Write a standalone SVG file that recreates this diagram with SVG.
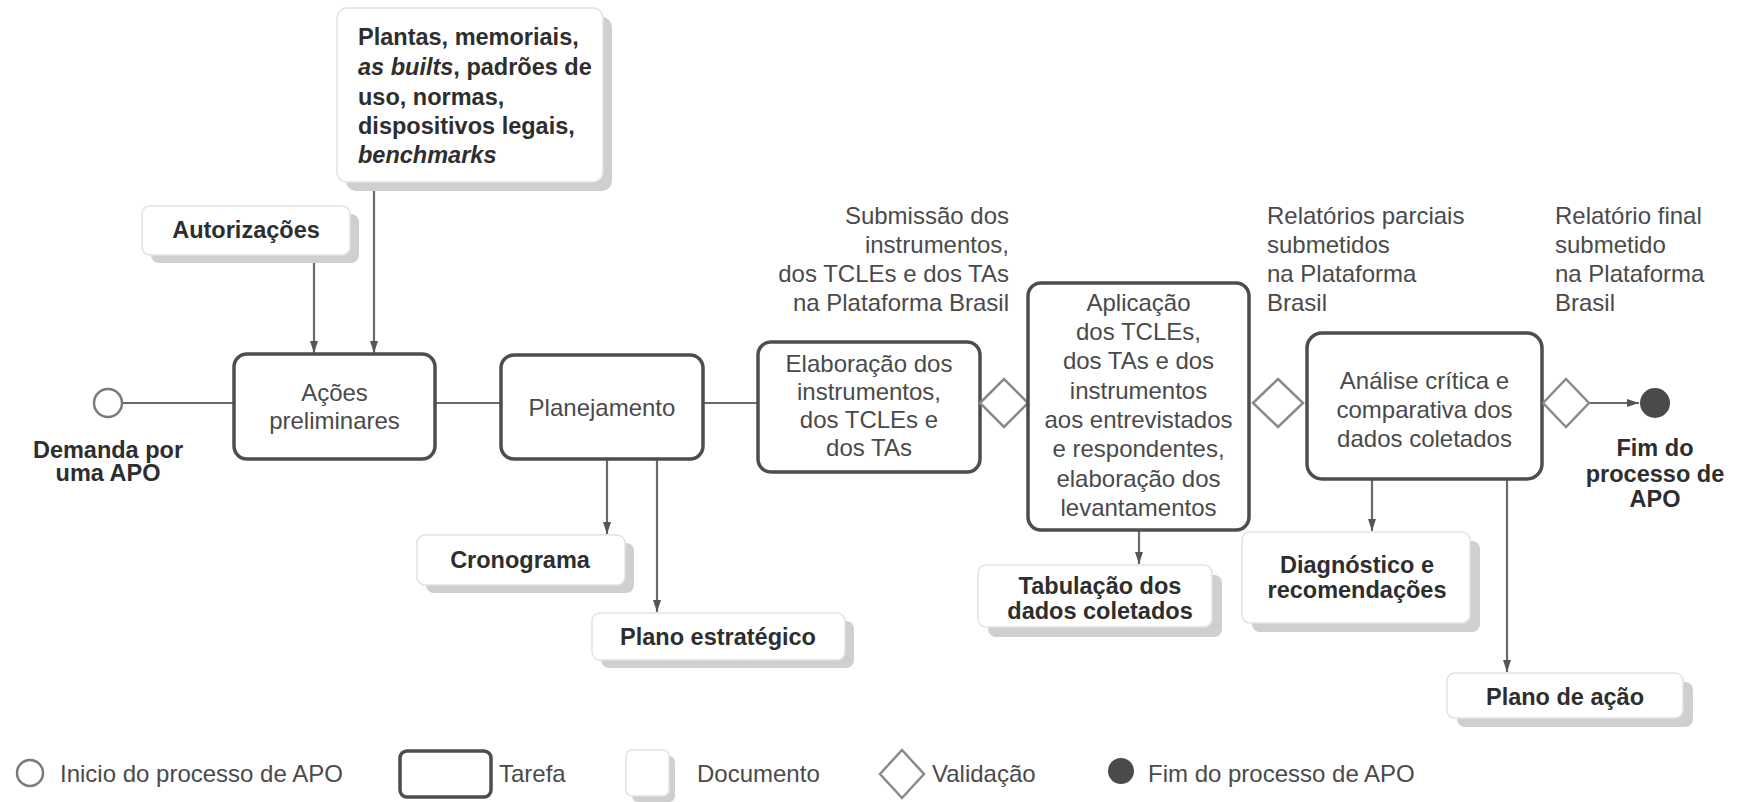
<svg xmlns="http://www.w3.org/2000/svg" width="1740" height="802" viewBox="0 0 1740 802">
<style>
text{font-family:"Liberation Sans",Arial,sans-serif;dominant-baseline:central}
.t{font-size:24px;fill:#4a4a4a;text-anchor:middle}
.l{font-size:24px;fill:#4a4a4a}
.b{font-size:23.5px;font-weight:bold;fill:#2e2e2e;text-anchor:middle}
.task{fill:#fff;stroke:#4d4d4d;stroke-width:3.5}
.doc{fill:#fff;stroke:#e2e2e2;stroke-width:1.5}
.sh{fill:#cfcfcf}
.dia{fill:#fff;stroke:#8a8a8a;stroke-width:2.5}
.ln{fill:none;stroke:#6a6a6a;stroke-width:2.2}
.ar{fill:none;stroke:#6a6a6a;stroke-width:2.2;marker-end:url(#ah)}
</style>
<defs>
<marker id="ah" viewBox="0 0 12 8" refX="12" refY="4" markerWidth="12" markerHeight="8" markerUnits="userSpaceOnUse" orient="auto">
<path d="M0,0 L12,4 L0,8 z" fill="#555"/>
</marker>
</defs>
<rect width="1740" height="802" fill="#fff"/>

<g id="connectors">
<line class="ln" x1="122" y1="403" x2="234" y2="403"/>
<line class="ln" x1="435" y1="403" x2="501" y2="403"/>
<line class="ln" x1="703" y1="403" x2="758" y2="403"/>
<line class="ar" x1="314" y1="255" x2="314" y2="353"/>
<line class="ar" x1="374" y1="184" x2="374" y2="353"/>
<line class="ar" x1="607" y1="459" x2="607" y2="534"/>
<line class="ar" x1="657" y1="459" x2="657" y2="612"/>
<line class="ar" x1="1139" y1="530" x2="1139" y2="564"/>
<line class="ar" x1="1372" y1="479" x2="1372" y2="531"/>
<line class="ar" x1="1507" y1="479" x2="1507" y2="672"/>
<line class="ar" x1="1589" y1="403" x2="1639" y2="403"/>
</g>

<g id="start">
<circle cx="108" cy="403" r="14" fill="#fff" stroke="#7a7a7a" stroke-width="2.5"/>
<text class="b" x="108" y="450">Demanda por</text>
<text class="b" x="108" y="473">uma APO</text>
</g>

<g id="docs-plantas">
<rect class="sh" x="346" y="17" width="266" height="174" rx="10"/>
<rect class="doc" x="337" y="8" width="266" height="174" rx="10"/>
<text class="b" x="358" y="37" style="text-anchor:start">Plantas, memoriais,</text>
<text class="b" x="358" y="67" style="text-anchor:start"><tspan font-style="italic">as builts</tspan>, padrões de</text>
<text class="b" x="358" y="97" style="text-anchor:start">uso, normas,</text>
<text class="b" x="358" y="126" style="text-anchor:start">dispositivos legais,</text>
<text class="b" x="358" y="155" style="text-anchor:start" font-style="italic">benchmarks</text>
</g>

<g id="autorizacoes">
<rect class="sh" x="151" y="214" width="208" height="49" rx="8"/>
<rect class="doc" x="142" y="206" width="208" height="49" rx="8"/>
<text class="b" x="246" y="230">Autorizações</text>
</g>

<g id="acoes">
<rect class="task" x="234" y="354" width="201" height="105" rx="13"/>
<text class="t" x="334.5" y="392">Ações</text>
<text class="t" x="334.5" y="420">preliminares</text>
</g>

<g id="planejamento">
<rect class="task" x="501" y="355" width="202" height="104" rx="13"/>
<text class="t" x="602" y="407">Planejamento</text>
</g>

<g id="cronograma">
<rect class="sh" x="426" y="543" width="208" height="50" rx="8"/>
<rect class="doc" x="417" y="535" width="208" height="50" rx="8"/>
<text class="b" x="520" y="560">Cronograma</text>
</g>

<g id="plano-estrategico">
<rect class="sh" x="601" y="621" width="253" height="47" rx="8"/>
<rect class="doc" x="592" y="613" width="253" height="47" rx="8"/>
<text class="b" x="718" y="637">Plano estratégico</text>
</g>

<g id="elaboracao">
<rect class="task" x="758" y="342" width="222" height="130" rx="13"/>
<text class="t" x="869" y="363">Elaboração dos</text>
<text class="t" x="869" y="391">instrumentos,</text>
<text class="t" x="869" y="419">dos TCLEs e</text>
<text class="t" x="869" y="447">dos TAs</text>
</g>

<g id="val1">
<polygon class="dia" points="980,403 1004,379 1028,403 1004,427"/>
</g>

<g id="label-submissao">
<text class="l" x="1009" y="215" text-anchor="end">Submissão dos</text>
<text class="l" x="1009" y="244" text-anchor="end">instrumentos,</text>
<text class="l" x="1009" y="273" text-anchor="end">dos TCLEs e dos TAs</text>
<text class="l" x="1009" y="302" text-anchor="end">na Plataforma Brasil</text>
</g>

<g id="aplicacao">
<rect class="task" x="1028" y="283" width="221" height="247" rx="13"/>
<text class="t" x="1138.5" y="302">Aplicação</text>
<text class="t" x="1138.5" y="331">dos TCLEs,</text>
<text class="t" x="1138.5" y="360">dos TAs e dos</text>
<text class="t" x="1138.5" y="390">instrumentos</text>
<text class="t" x="1138.5" y="419">aos entrevistados</text>
<text class="t" x="1138.5" y="448">e respondentes,</text>
<text class="t" x="1138.5" y="478">elaboração dos</text>
<text class="t" x="1138.5" y="507">levantamentos</text>
</g>

<g id="tabulacao">
<rect class="sh" x="988" y="575" width="234" height="62" rx="8"/>
<rect class="doc" x="978" y="565" width="234" height="62" rx="8"/>
<text class="b" x="1100" y="586">Tabulação dos</text>
<text class="b" x="1100" y="611">dados coletados</text>
</g>

<g id="val2">
<polygon class="dia" points="1253,403 1278,379 1303,403 1278,427"/>
</g>

<g id="label-parciais">
<text class="l" x="1267" y="215">Relatórios parciais</text>
<text class="l" x="1267" y="244">submetidos</text>
<text class="l" x="1267" y="273">na Plataforma</text>
<text class="l" x="1267" y="302">Brasil</text>
</g>

<g id="analise">
<rect class="task" x="1307" y="333" width="235" height="146" rx="15"/>
<text class="t" x="1424.5" y="380">Análise crítica e</text>
<text class="t" x="1424.5" y="409">comparativa dos</text>
<text class="t" x="1424.5" y="438">dados coletados</text>
</g>

<g id="diagnostico">
<rect class="sh" x="1252" y="541" width="228" height="91" rx="8"/>
<rect class="doc" x="1242" y="532" width="228" height="91" rx="8"/>
<text class="b" x="1357" y="565">Diagnóstico e</text>
<text class="b" x="1357" y="590">recomendações</text>
</g>

<g id="plano-acao">
<rect class="sh" x="1457" y="682" width="236" height="45" rx="8"/>
<rect class="doc" x="1447" y="673" width="236" height="45" rx="8"/>
<text class="b" x="1565" y="697">Plano de ação</text>
</g>

<g id="val3">
<polygon class="dia" points="1543,403 1566,379 1589,403 1566,427"/>
</g>

<g id="label-final">
<text class="l" x="1555" y="215">Relatório final</text>
<text class="l" x="1555" y="244">submetido</text>
<text class="l" x="1555" y="273">na Plataforma</text>
<text class="l" x="1555" y="302">Brasil</text>
</g>

<g id="end">
<circle cx="1655" cy="403" r="15" fill="#4a4a4a"/>
<text class="b" x="1655" y="448">Fim do</text>
<text class="b" x="1655" y="474">processo de</text>
<text class="b" x="1655" y="499">APO</text>
</g>

<g id="legend">
<circle cx="30" cy="773" r="13" fill="#fff" stroke="#7a7a7a" stroke-width="2.5"/>
<text class="l" x="60" y="773">Inicio do processo de APO</text>
<rect class="task" x="400" y="751" width="91" height="46" rx="7"/>
<text class="l" x="499" y="773">Tarefa</text>
<rect class="sh" x="632" y="756" width="43" height="46" rx="6"/>
<rect class="doc" x="626" y="750" width="43" height="46" rx="6"/>
<text class="l" x="697" y="773">Documento</text>
<polygon class="dia" points="880,774 902,750 924,774 902,798"/>
<text class="l" x="932" y="773">Validação</text>
<circle cx="1121" cy="771" r="13" fill="#4a4a4a"/>
<text class="l" x="1148" y="773">Fim do processo de APO</text>
</g>
</svg>
